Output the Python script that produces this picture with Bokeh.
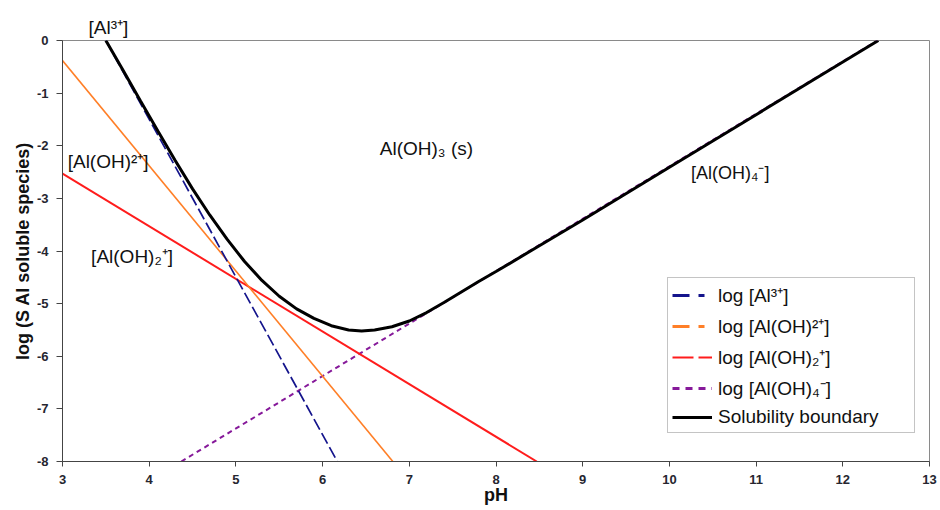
from bokeh.plotting import figure
from bokeh.models import (Range1d, FixedTicker, Label, Legend, LegendItem,
                          ColumnDataSource)
from bokeh.embed import file_html
from bokeh.resources import INLINE

# ---------------- data ----------------
ph_al3 = [3.50, 6.17]
log_al3 = [0.0, -8.0]

ph_aloh = [3.00, 6.81]
log_aloh = [-0.38, -8.0]

ph_aloh2 = [3.00, 8.47]
log_aloh2 = [-2.53, -8.0]

ph_aloh4 = [4.37, 12.40]
log_aloh4 = [-8.0, 0.0]

ph_bound = [3.50, 3.70, 3.90, 4.10, 4.30, 4.50, 4.70, 4.90, 5.10, 5.30,
            5.50, 5.70, 5.90, 6.10, 6.30, 6.45, 6.60, 6.80, 7.00, 7.20,
            7.40, 7.60, 7.80, 8.00, 8.50, 9.00, 10.00, 11.00, 12.00, 12.41]
log_bound = [0.00, -0.57, -1.15, -1.72, -2.28, -2.82, -3.32, -3.78, -4.20, -4.56,
             -4.86, -5.10, -5.28, -5.42, -5.50, -5.52, -5.50, -5.44, -5.33, -5.17,
             -4.98, -4.78, -4.58, -4.39, -3.90, -3.41, -2.41, -1.41, -0.41, 0.00]

x_ticks = [3, 4, 5, 6, 7, 8, 9, 10, 11, 12, 13]
y_ticks = [0, -1, -2, -3, -4, -5, -6, -7, -8]
y_tick_labels = ["0", "-1", "-2", "-3", "-4", "-5", "-6", "-7", "-8"]

legend_labels = ["log [Al\u00b3\u207a]", "log [Al(OH)\u00b2\u207a]",
                 "log [Al(OH)\u2082\u207a]", "log [Al(OH)\u2084\u207b]",
                 "Solubility boundary"]

top_label = "[Al\u00b3\u207a]"
annot_text = ["[Al(OH)\u00b2\u207a]", "[Al(OH)\u2082\u207a]",
              "Al(OH)\u2083 (s)", "[Al(OH)\u2084\u207b]"]
annot_x = [3.06, 3.33, 6.66, 10.25]
annot_y = [-2.30, -4.11, -2.05, -2.51]
annot_size = ["19px", "19px", "19px", "18px"]

# ---------------- figure ----------------
FONT = "Liberation Sans"
p = figure(width=938, height=508, output_backend="svg", toolbar_location=None,
           x_range=Range1d(3, 13), y_range=Range1d(-8, 0),
           min_border_left=62, min_border_top=40, min_border_right=9,
           min_border_bottom=47)
p.background_fill_color = "white"
p.border_fill_color = "white"
p.outline_line_color = "#8a8a8a"
p.outline_line_width = 1
p.xgrid.visible = False
p.ygrid.visible = False

# label above the frame
p.title.text = top_label
p.title.align = "left"
p.title.offset = 26
p.title.standoff = 5
p.title.text_font = FONT
p.title.text_font_size = "19px"
p.title.text_font_style = "normal"
p.title.text_color = "#111111"

for ax in (p.xaxis[0], p.yaxis[0]):
    ax.axis_line_color = "#444444"
    ax.major_tick_line_color = "#444444"
    ax.major_tick_in = 0
    ax.minor_tick_line_color = None
    ax.major_label_text_font = FONT
    ax.major_label_text_font_style = "bold"
    ax.major_label_text_font_size = "13px"
    ax.major_label_text_color = "#262630"
    ax.axis_label_text_font = FONT
    ax.axis_label_text_font_style = "bold"
    ax.axis_label_text_font_size = "18px"
    ax.axis_label_text_color = "#111111"

p.xaxis.ticker = FixedTicker(ticks=x_ticks)
p.yaxis.ticker = FixedTicker(ticks=y_ticks)
p.yaxis.major_label_overrides = dict(zip(y_ticks, y_tick_labels))
p.xaxis.axis_label = "pH"
p.xaxis.major_tick_out = 5
p.xaxis.major_label_standoff = 8
p.xaxis.axis_label_standoff = -2
p.yaxis.axis_label = "log (S Al soluble species)"
p.yaxis.major_tick_out = 6
p.yaxis.major_label_standoff = 8
p.yaxis.axis_label_standoff = 1

# ---------------- lines ----------------
C_AL3 = "#14148c"
C_ALOH = "#ff7f27"
C_ALOH2 = "#ff1c1c"
C_ALOH4 = "#86199a"

p.line(ph_aloh4, log_aloh4, line_color=C_ALOH4, line_width=2, line_dash="5 4")
p.line(ph_aloh2, log_aloh2, line_color=C_ALOH2, line_width=2)
p.line(ph_aloh, log_aloh, line_color=C_ALOH, line_width=1.6)
p.line(ph_al3, log_al3, line_color=C_AL3, line_width=1.7, line_dash="12 4")
p.line(ph_bound, log_bound, line_color="black", line_width=3)

# legend-only renderers (Excel-style dashed legend glyphs); NaN = nothing drawn
nan = float("nan")
def legend_src():
    return ColumnDataSource(dict(x=[nan], y=[nan]))

lg = [
    p.line("x", "y", source=legend_src(), line_color=C_AL3,
           line_width=3, line_dash="17 9 6 100"),
    p.line("x", "y", source=legend_src(), line_color=C_ALOH,
           line_width=3, line_dash="17 9 6 100"),
    p.line("x", "y", source=legend_src(), line_color=C_ALOH2,
           line_width=2, line_dash="21 5"),
    p.line("x", "y", source=legend_src(), line_color=C_ALOH4,
           line_width=3, line_dash="7 6"),
    p.line("x", "y", source=legend_src(), line_color="black",
           line_width=3),
]
legend = Legend(items=[LegendItem(label=l, renderers=[r])
                       for l, r in zip(legend_labels, lg)],
                location=(605, 28))
legend.label_text_font = FONT
legend.label_text_font_size = "19px"
legend.label_text_color = "#111111"
legend.glyph_width = 40
legend.glyph_height = 20
legend.label_height = 20
legend.label_width = 192
legend.label_standoff = 6
legend.spacing = 5
legend.padding = 4
legend.margin = 0
legend.border_line_color = "#8a8a8a"
legend.border_line_width = 1.5
legend.background_fill_color = "white"
legend.background_fill_alpha = 1.0
p.add_layout(legend)

# ---------------- annotations ----------------
for t, x, y, s in zip(annot_text, annot_x, annot_y, annot_size):
    p.add_layout(Label(x=x, y=y, text=t, text_font=FONT, text_font_size=s,
                       text_color="#111111", text_align="left",
                       text_baseline="middle"))

open("out.html", "w").write(file_html(p, INLINE))
